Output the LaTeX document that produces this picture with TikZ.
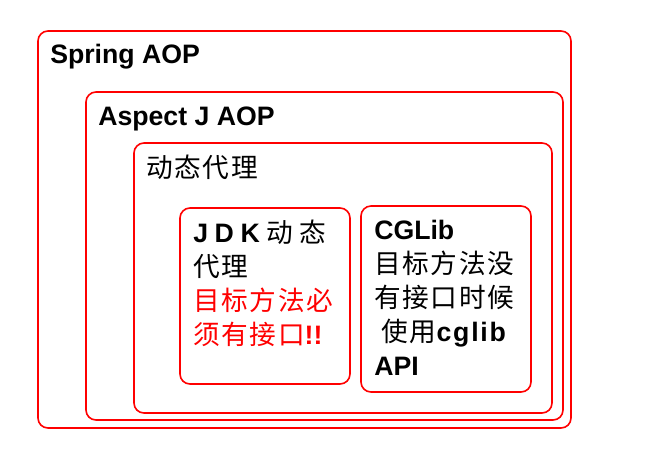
\documentclass[tikz,border=0pt]{standalone}
\usepackage{fontspec}
\setmainfont{Liberation Sans}
\newfontfamily\cjk[LetterSpace=6]{Noto Sans CJK SC}
\newcommand\colorFrame{red}
\newcommand\colorNote{red}
\newcommand\zh[1]{{\cjk\mdseries #1}}

\begin{document}
\begin{tikzpicture}[x=0.75pt,y=-0.75pt,
	frame/.style={draw=\colorFrame, line width=1.2pt, rounded corners=7.5pt},
	caption/.style={anchor=base west, inner sep=0pt, align=left, font=\fontsize{20}{25.4}\selectfont\bfseries}]
		\useasboundingbox (0,0) rectangle (648,451);
	
		\foreach \xa/\ya/\xb/\yb in {38/31/571/428, 86/92/563/420, 134/143/552/413, 180/208/350/384, 361/206/531/392}{
			\draw[frame] (\xa,\ya) rectangle (\xb,\yb);
		}
	
		\node[caption] (spring) at (50,63) {Spring AOP};
		\node[caption] (aspectj) at (98,125) {Aspect J AOP};
		\node[caption] (dynproxy) at (146,177) {\zh{动态代理}};
	
		% multi-line captions sit on their last baseline
		\node[caption] (jdk) at (193,344) {\makebox[100pt][s]{J\hfill D\hfill K\hfill\zh{动}\hfill\zh{态}}\\
			\zh{代理}\\
			\textcolor{\colorNote}{\zh{目标方法必}}\\
			\textcolor{\colorNote}{\zh{须有接口}!!}};
	
		\node[caption] (cglib) at (374,375) {CGLib\\
			\zh{目标方法没}\\
			\zh{有接口时候}\\
			\ \zh{使用}\makebox[52pt][s]{c\hfill g\hfill l\hfill i\hfill b}\\
			API};
	\end{tikzpicture}
\end{document}
